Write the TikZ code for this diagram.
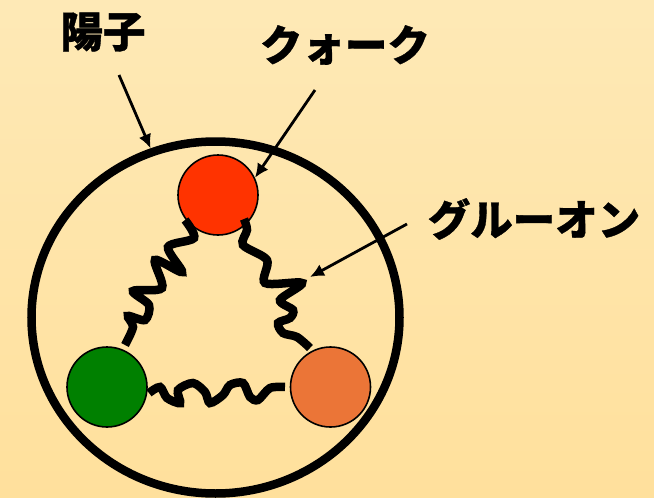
\documentclass[tikz,border=0pt]{standalone}
\usepackage{fontspec}
\newfontfamily\cjk[BoldFeatures={FakeBold=0.8}]{Noto Sans CJK JP}
\usetikzlibrary{arrows.meta,shapes.geometric}
\definecolor{paletop}{HTML}{FEE9B6}
\definecolor{palebottom}{HTML}{FFE09C}
\definecolor{quarkred}{HTML}{FF3300}
\definecolor{quarkgreen}{HTML}{008000}
\definecolor{quarkorange}{HTML}{EB7537}
\tikzset{
	quark/.style={circle, draw, line width=1.6pt, minimum size=80pt, inner sep=0pt},
	gluon/.style={line width=8.5pt, smooth, tension=0.5},
	pointer/.style={-{Latex[length=14pt,width=13pt]}, line width=2.8pt},
	title/.style={font=\cjk\bfseries\fontsize{42.5}{42.5}\selectfont, inner sep=0pt}
}
\begin{document}
\begin{tikzpicture}[x=1pt,y=-1pt]
	\useasboundingbox (0,0) rectangle (654,498);
	\shade[top color=paletop, bottom color=palebottom] (0,0) rectangle (654,498);
	\node[ellipse, draw, line width=8.5pt, minimum width=368pt, minimum height=352pt, inner sep=0pt] (proton) at (215.5,317.5) {};
	\node[quark, fill=quarkred] (red) at (218,195) {};
	\node[quark, fill=quarkgreen] (green) at (107,387) {};
	\node[quark, fill=quarkorange] (orange) at (330.5,387) {};
	\node[title] (protonlabel) at (103,32) {陽子};
	\node[title] (quarklabel) at (345,45) {クォーク};
	\node[title] (gluonlabel) at (534,219) {グルーオン};
	% free ends of the pointers
	\coordinate (protontail) at (119,75);
	\coordinate (quarktail) at (315,90);
	\coordinate (gluontail) at (407,224);
	\coordinate (gluontip) at (310,277);
	\draw[pointer] (protontail) -- (proton.111);
	\draw[pointer] (quarktail) -- (red.25);
	\draw[pointer] (gluontail) -- (gluontip);
	% wiggly lines between the quarks
	\draw[gluon] plot coordinates {(125,345) (133,327) (128,316) (145,320) (149,305) (133,291) (162,288) (155,260) (182,272) (168,247) (194,238) (185,220)};
	\draw[gluon] plot coordinates {(244,219) (247,230) (243,245) (267,260) (265,283) (302,283) (280,300) (293,310) (290,318) (278,323) (283,333) (297,337) (310,348)};
	\draw[gluon] plot coordinates {(149,393) (160,387) (167,398) (180,403) (178,390) (193,383) (205,392) (210,403) (223,395) (230,385) (243,383) (250,397) (258,400) (270,388) (285,387)};
\end{tikzpicture}
\end{document}
